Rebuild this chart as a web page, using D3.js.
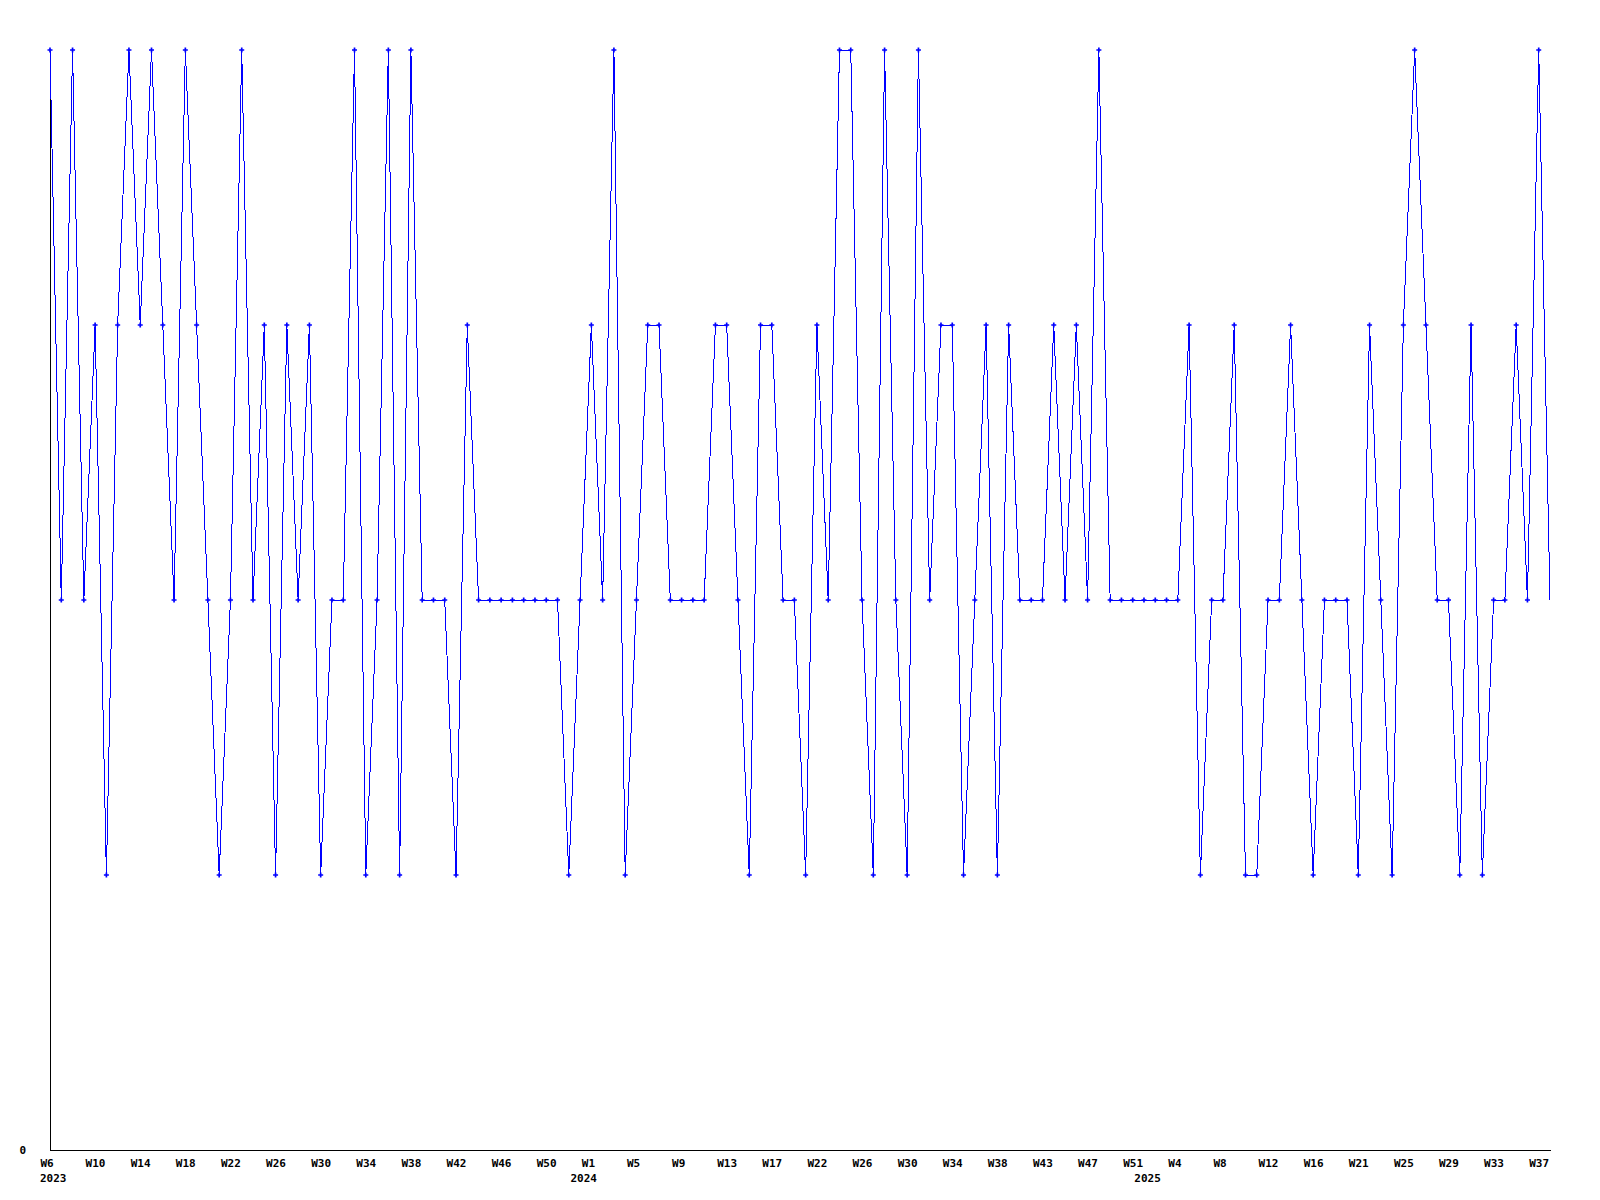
<!DOCTYPE html>
<html>
<head>
<meta charset="utf-8">
<script src="https://cdn.jsdelivr.net/npm/d3@7"></script>
<style>
  body { margin: 0; background: #fff; }
  text { font-family: "DejaVu Sans Mono", monospace; font-weight: bold; font-size: 11px; fill: #000; }
</style>
</head>
<body>
<svg width="1600" height="1200"></svg>
<script>
// weekly values, 2023 W6 .. 2025 W38
const values = [
  4, 2, 4, 2, 3, 1, 3, 4, 3, 4, 3, 2, 4, 3, 2, 1, 2, 4, 2, 3, 1, 3, 2,
  3, 1, 2, 2, 4, 1, 2, 4, 1, 4, 2, 2, 2, 1, 3, 2, 2, 2, 2, 2, 2, 2, 2,
  1, 2, 3, 2, 4, 1, 2, 3, 3, 2, 2, 2, 2, 3, 3, 2, 1, 3, 3, 2, 2, 1,
  3, 2, 4, 4, 2, 1, 4, 2, 1, 4, 2, 3, 3, 1, 2, 3, 1, 3, 2, 2, 2, 3,
  2, 3, 2, 4, 2, 2, 2, 2, 2, 2, 2, 3, 1, 2, 2, 3, 1, 1, 2, 2, 3, 2, 1,
  2, 2, 2, 1, 3, 2, 1, 3, 4, 3, 2, 2, 1, 3, 1, 2, 2, 3, 2, 4, 2
];

// label on every 4th week
const tickLabels = [
  "W6", "W10", "W14", "W18", "W22", "W26", "W30", "W34", "W38", "W42", "W46", "W50",
  "W1", "W5", "W9", "W13", "W17", "W22", "W26", "W30", "W34", "W38", "W43", "W47", "W51",
  "W4", "W8", "W12", "W16", "W21", "W25", "W29", "W33", "W37"
];
const years = ["2023", "2024", "2025"];
const yearStart = [0, 48, 98]; // index of first week of each year

const margin = { top: 50, right: 50, bottom: 50, left: 50 },
  width = 1600,
  height = 1200;

const svg = d3.select("svg");

svg.append("rect").attr("width", width).attr("height", height).attr("fill", "#fff");

const x = d3.scaleLinear()
  .domain([0, values.length - 1])
  .range([margin.left, width - margin.right]);

const y = d3.scaleLinear()
  .domain([0, 4])
  .range([height - margin.bottom, margin.top]);

// axes
const xAxis = svg.append("g")
  .attr("transform", "translate(0," + (height - margin.bottom) + ")")
  .call(d3.axisBottom(x)
    .tickValues(d3.range(0, values.length, 4))
    .tickFormat((d, i) => tickLabels[i])
    .tickSize(0)
    .tickSizeOuter(0)
    .tickPadding(17));

xAxis.selectAll("text")
  .attr("text-anchor", "start")
  .attr("dx", -10)
  .attr("dy", 0)
  .attr("font-family", null)
  .attr("font-size", null);

const yAxis = svg.append("g")
  .attr("transform", "translate(" + margin.left + ",0)")
  .call(d3.axisLeft(y)
    .tickValues([0])
    .tickFormat(d3.format("d"))
    .tickSize(0)
    .tickSizeOuter(0)
    .tickPadding(24));

yAxis.selectAll("text")
  .attr("dy", "0.32em")
  .attr("font-family", null)
  .attr("font-size", null);

svg.selectAll(".domain")
  .attr("stroke", "#000")
  .attr("shape-rendering", "crispEdges");

// year labels under the week labels
svg.append("g")
  .selectAll("text")
  .data(years)
  .join("text")
  .attr("y", height - margin.bottom + 32)
  .attr("text-anchor", (d, i) => (i === 0 ? "start" : "middle"))
  .attr("x", (d, i) => (i === 0 ? x(yearStart[i]) - 10 : x(yearStart[i] - 0.5) - 2))
  .text((d) => d);

// series
const line = d3.line()
  .x((d, i) => x(i))
  .y((d) => y(d));

svg.append("path")
  .datum(values)
  .attr("fill", "none")
  .attr("stroke", "#0000ff")
  .attr("stroke-width", 1)
  .attr("shape-rendering", "crispEdges")
  .attr("d", line);

// markers (current week has none)
svg.append("g")
  .selectAll("path")
  .data(values.slice(0, -1))
  .join("path")
  .attr("transform", (d, i) => "translate(" + x(i) + "," + y(d) + ")")
  .attr("d", d3.symbol(d3.symbolCross, 14))
  .attr("fill", "#0000ff");
</script>
</body>
</html>
